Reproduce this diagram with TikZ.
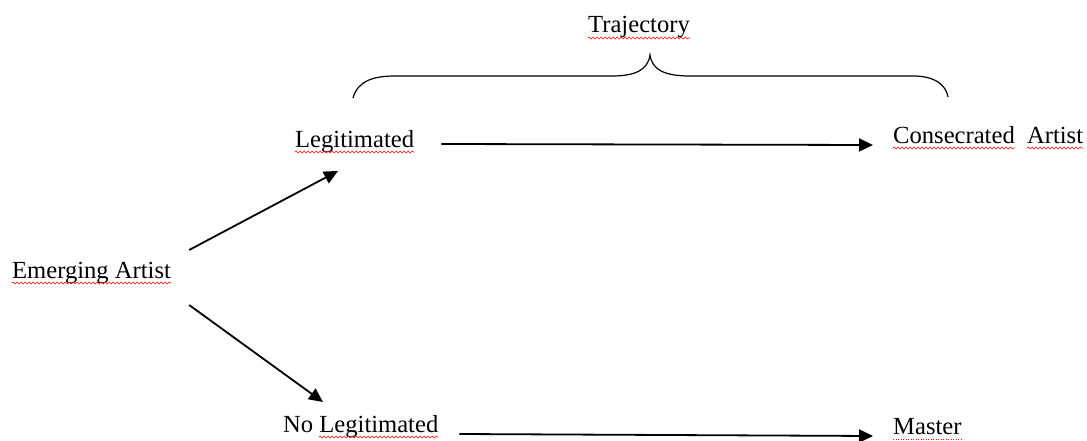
\documentclass[tikz,border=0pt]{standalone}
\usepackage{fontspec}
\setmainfont{Liberation Serif}
\usetikzlibrary{arrows.meta,decorations.pathmorphing}
\begin{document}
\begin{tikzpicture}[x=1pt,y=-1pt,
  lbl/.style={anchor=base west,inner sep=0pt,font=\fontsize{24.6}{28}\selectfont},
  arr/.style={line width=1.8pt,-{Triangle[length=14pt,width=13pt]}},
  wavy/.style={draw=red,line width=0.6pt,decorate,decoration={snake,amplitude=0.9pt,segment length=4pt}},
  dotline/.style={draw=red,line width=0.9pt,dash pattern=on 0.9pt off 1.6pt},
  bracestyle/.style={line width=1.2pt}]
\useasboundingbox (0,0) rectangle (1087,441);
\node[lbl] (em) at (12,278) {Emerging Artist};
\node[lbl] (leg) at (295,147) {Legitimated};
\node[lbl] (cons) at (893,143) {Consecrated\ \ Artist};
\node[lbl] (noleg) at (283,432) {No Legitimated};
\node[lbl] (mas) at (893,434) {Master};
\node[lbl] (traj) at (588,33) {Trajectory};
% connectors
\draw[arr] ([shift={(18,-28)}]em.base east) -- ([shift={(43,24)}]leg.base west);
\draw[arr] ([shift={(18,27)}]em.base east) -- ([shift={(40,-30)}]noleg.base west);
\draw[arr] ([shift={(27,-3)}]leg.base east) -- ([shift={(-20,2)}]cons.base west);
\draw[arr] ([shift={(21,2)}]noleg.base east) -- ([shift={(-20,2)}]mas.base west);
% brace
\draw[bracestyle] (353,98) .. controls (358,80) and (375,76) .. (395,76) -- (612,76)
  .. controls (635,76) and (648,70) .. (650,55)
  .. controls (652,70) and (665,76) .. (690,76) -- (913,76)
  .. controls (935,76) and (946,85) .. (948,97);
% spell-check underlines
\draw[wavy] ([yshift=-5pt]em.base west) -- ([yshift=-5pt]em.base east);
\draw[wavy] ([yshift=-5pt]leg.base west) -- ([yshift=-5pt]leg.base east);
\draw[wavy] ([yshift=-5pt]cons.base west) -- ([shift={(122,0)},yshift=-5pt]cons.base west);
\draw[wavy] ([shift={(134,0)},yshift=-5pt]cons.base west) -- ([yshift=-5pt]cons.base east);
\draw[wavy] ([shift={(36,0)},yshift=-5pt]noleg.base west) -- ([yshift=-5pt]noleg.base east);
\draw[dotline] ([yshift=-5pt]mas.base west) -- ([yshift=-5pt]mas.base east);
\draw[wavy] ([yshift=-5pt]traj.base west) -- ([yshift=-5pt]traj.base east);
\end{tikzpicture}
\end{document}
